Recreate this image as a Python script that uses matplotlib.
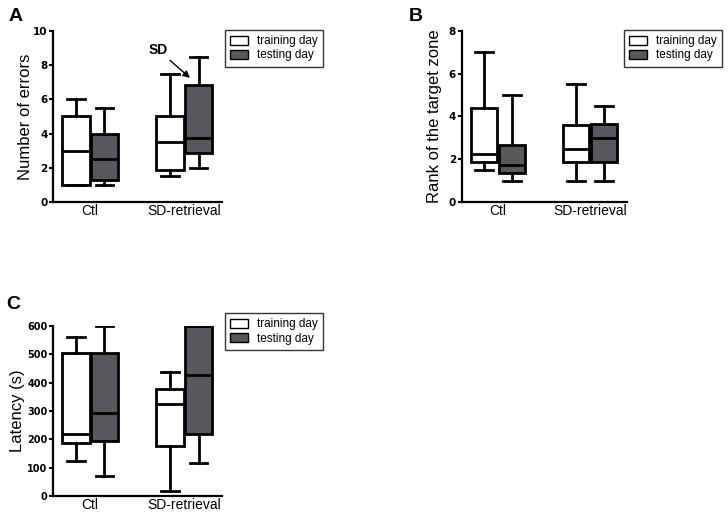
import matplotlib
matplotlib.use('Agg')
import matplotlib.pyplot as plt
from matplotlib.patches import Patch

plt.rcParams['font.family'] = ['Liberation Sans', 'DejaVu Sans']

# ---- data ----
groups = ['Ctl', 'SD-retrieval']
series = ['training day', 'testing day']

# per panel: [training Ctl, testing Ctl, training SD, testing SD]
# each as (whislo, q1, med, q3, whishi)
errors_stats = [(1.0, 1.0, 3.0, 5.0, 6.0),
                (1.0, 1.3, 2.5, 4.0, 5.5),
                (1.5, 1.85, 3.5, 5.0, 7.5),
                (2.0, 2.85, 3.75, 6.85, 8.5)]
rank_stats = [(1.5, 1.85, 2.25, 4.4, 7.0),
              (1.0, 1.35, 1.75, 2.65, 5.0),
              (1.0, 1.85, 2.5, 3.6, 5.5),
              (1.0, 1.85, 3.0, 3.65, 4.5)]
latency_stats = [(125, 188, 218, 503, 562),
                 (70, 195, 294, 503, 598),
                 (18, 178, 323, 378, 438),
                 (115, 220, 428, 598, 598)]

fill_colors = ['white', '#58585c']
box_w = 0.29


def draw_panel(ax, stats, ylabel, ymax, ystep, leg_xy, label_x, tick_fs=7.5):
    pos = []
    for g in range(len(groups)):
        pos += [g + 1 - 0.152, g + 1 + 0.152]
    bstats = []
    for s in stats:
        lo, q1, med, q3, hi = s
        bstats.append(dict(whislo=lo, q1=q1, med=med, q3=q3, whishi=hi, fliers=[]))
    bp = ax.bxp(bstats, positions=pos, widths=box_w, patch_artist=True,
                showfliers=False,
                boxprops=dict(linewidth=2.0, edgecolor='black'),
                medianprops=dict(color='black', linewidth=2.0),
                whiskerprops=dict(color='black', linewidth=2.0),
                capprops=dict(color='black', linewidth=2.0),
                capwidths=0.19)
    for i, b in enumerate(bp['boxes']):
        b.set_facecolor(fill_colors[i % 2])
    ax.set_xlim(0.605, 2.40)
    ax.set_ylim(0, ymax)
    yt = [i * ystep for i in range(int(round(ymax / ystep)) + 1)]
    ax.set_yticks(yt)
    ax.set_yticklabels([str(v) for v in yt], family='DejaVu Sans',
                       fontweight='bold', fontsize=tick_fs)
    ax.set_xticks([1, 2])
    ax.set_xticklabels(groups, fontsize=10)
    ax.tick_params(axis='x', length=0, pad=1.5)
    ax.tick_params(axis='y', length=3, width=1.5, pad=1)
    for sp in ['top', 'right']:
        ax.spines[sp].set_visible(False)
    for sp in ['left', 'bottom']:
        ax.spines[sp].set_linewidth(1.6)
    ax.set_ylabel(ylabel, fontsize=12)
    ax.yaxis.set_label_coords(label_x, 0.5)
    handles = [Patch(facecolor=c, edgecolor='black', linewidth=1.0) for c in fill_colors]
    leg = ax.legend(handles, series, loc='upper left', bbox_to_anchor=leg_xy,
                    borderaxespad=0, fontsize=8.5, frameon=True, fancybox=False,
                    handlelength=1.5, handleheight=0.8, borderpad=0.45,
                    labelspacing=0.2, handletextpad=0.8)
    leg.get_frame().set_edgecolor('black')
    leg.get_frame().set_linewidth(1.0)
    return ax


fig = plt.figure(figsize=(7.28, 5.14), dpi=100)
axA = fig.add_axes([0.0728, 0.607, 0.232, 0.333])
axB = fig.add_axes([0.634, 0.607, 0.227, 0.333])
axC = fig.add_axes([0.0728, 0.035, 0.232, 0.331])

draw_panel(axA, errors_stats, 'Number of errors', 10, 2, (1.018, 1.006), -0.12)
draw_panel(axB, rank_stats, 'Rank of the target zone', 8, 2, (0.982, 1.006), -0.119)
draw_panel(axC, latency_stats, 'Latency (s)', 600, 100, (1.018, 1.075), -0.165,
           tick_fs=7)

axA.annotate('SD', xy=(2.06, 7.25), xytext=(1.72, 8.9), fontsize=10, fontweight='bold',
             ha='center', va='center',
             arrowprops=dict(arrowstyle='-|>', color='black', lw=1.0, shrinkA=1,
                             shrinkB=0, mutation_scale=10))

fig.text(0.012, 0.985, 'A', fontsize=14, fontweight='bold', va='top')
fig.text(0.562, 0.985, 'B', fontsize=14, fontweight='bold', va='top')
fig.text(0.008, 0.425, 'C', fontsize=14, fontweight='bold', va='top')

fig.savefig('out.png', dpi=100)
